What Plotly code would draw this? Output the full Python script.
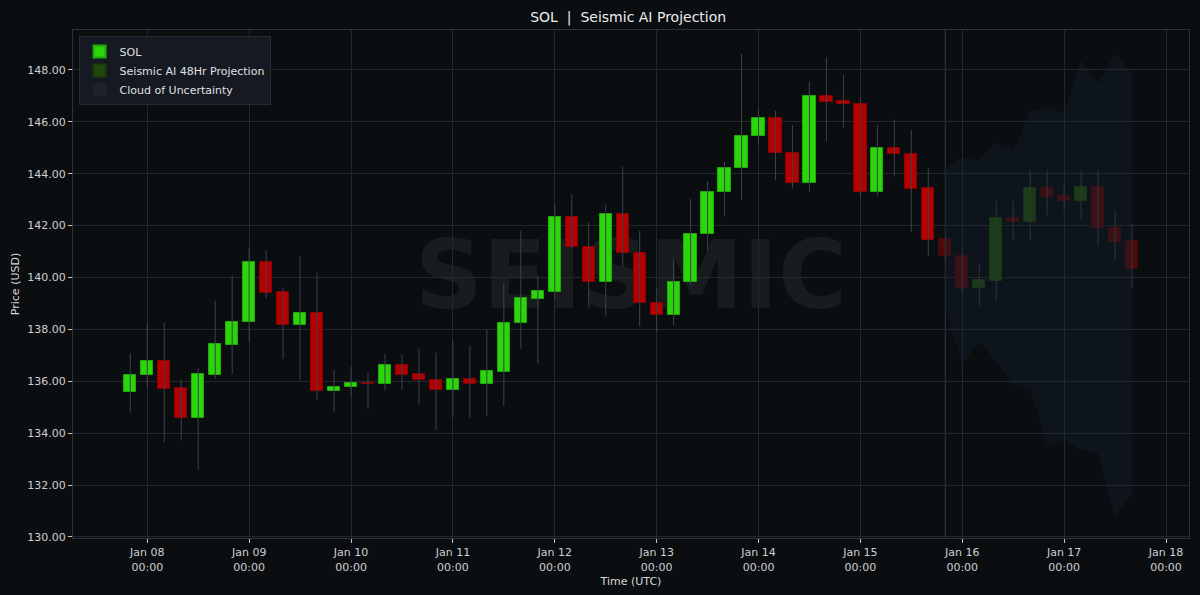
import plotly.graph_objects as go
import pandas as pd

# ---------------- data ----------------
hist_open = [135.60, 136.23, 136.77, 135.73, 134.60, 136.26, 137.41, 138.28, 140.60, 139.43,
             138.17, 138.62, 135.64, 135.77, 135.94, 135.91, 136.64, 136.27, 136.05, 135.67,
             136.09, 135.89, 136.37, 138.24, 139.19, 139.46, 142.35, 141.19, 139.84, 142.44,
             140.94, 139.03, 138.56, 139.82, 141.67, 143.29, 144.21, 145.45, 146.15, 144.80,
             143.66, 147.00, 146.80, 146.69, 143.31, 144.98, 144.76, 143.44]
hist_high = [137.08, 138.26, 138.26, 136.08, 136.50, 139.10, 140.06, 141.17, 141.06, 139.61,
             140.81, 140.17, 136.44, 136.57, 136.31, 137.05, 137.02, 137.25, 137.10, 137.53,
             137.37, 137.98, 139.78, 141.80, 140.06, 142.80, 143.22, 142.12, 142.80, 144.26,
             141.80, 139.59, 140.68, 143.03, 143.72, 144.47, 148.62, 146.50, 146.42, 145.88,
             147.55, 148.48, 147.81, 146.90, 145.88, 146.08, 145.69, 144.21]
hist_low = [134.81, 135.80, 133.65, 133.73, 132.58, 136.10, 136.27, 137.53, 139.18, 136.87,
            136.03, 135.28, 134.81, 135.41, 134.95, 135.64, 135.67, 135.09, 134.12, 134.61,
            134.60, 134.68, 135.05, 137.25, 136.70, 139.20, 141.13, 138.84, 138.52, 140.42,
            138.11, 137.90, 138.15, 139.71, 141.03, 142.35, 142.99, 145.10, 143.76, 143.44,
            143.31, 145.24, 145.78, 143.10, 143.16, 143.89, 141.76, 140.83]
hist_close = [136.25, 136.77, 135.71, 134.60, 136.27, 137.43, 138.30, 140.60, 139.42, 138.17,
              138.62, 135.64, 135.79, 135.94, 135.91, 136.64, 136.26, 136.05, 135.67, 136.10,
              135.89, 136.39, 138.26, 139.21, 139.48, 142.35, 141.19, 139.84, 142.44, 140.94,
              139.03, 138.56, 139.82, 141.67, 143.30, 144.21, 145.46, 146.15, 144.79, 143.66,
              147.00, 146.78, 146.68, 143.31, 144.98, 144.75, 143.42, 141.45]

proj_open = [141.48, 140.83, 139.61, 139.87, 142.30, 142.13, 143.45, 143.13, 142.94, 143.48, 141.92, 141.41]
proj_high = [141.60, 141.00, 140.55, 142.96, 142.96, 144.15, 144.15, 143.60, 144.15, 144.15, 142.61, 142.09]
proj_low = [140.70, 139.40, 138.91, 139.14, 141.42, 141.42, 142.39, 142.50, 142.22, 141.19, 140.68, 139.59]
proj_close = [140.83, 139.61, 139.90, 142.30, 142.13, 143.45, 143.12, 142.94, 143.48, 141.92, 141.38, 140.33]

cloud_upper = [144.21, 144.64, 144.53, 145.22, 144.92, 146.40, 146.59, 146.33, 148.39, 147.49, 148.65, 147.88]
cloud_lower = [138.75, 136.63, 137.53, 136.76, 135.86, 135.67, 133.55, 133.74, 133.35, 133.23, 130.78, 131.68]

hist_times = pd.date_range("2025-01-07 20:00", periods=len(hist_open), freq="4h")
proj_times = pd.date_range("2025-01-15 20:00", periods=len(proj_open), freq="4h")

x_tick_vals = pd.date_range("2025-01-08", "2025-01-18", freq="D")
x_tick_text = ["Jan 08<br>00:00", "Jan 09<br>00:00", "Jan 10<br>00:00", "Jan 11<br>00:00",
               "Jan 12<br>00:00", "Jan 13<br>00:00", "Jan 14<br>00:00", "Jan 15<br>00:00",
               "Jan 16<br>00:00", "Jan 17<br>00:00", "Jan 18<br>00:00"]
y_tick_vals = [130, 132, 134, 136, 138, 140, 142, 144, 146, 148]

# ---------------- styling ----------------
BG = "#0b0e11"
GRID = "#24282e"
GREEN = "#2ad50a"
GREEN_EDGE = "#21a80a"
RED = "#b40000"
RED_EDGE = "#8c0000"
PGREEN = "#1f480c"
PGREEN_EDGE = "#1a3d0b"
PRED = "#4e0a0a"
PRED_EDGE = "#420909"
WICK = "#3d414a"
PWICK = "#30343b"
BODY_W = 4 * 3600 * 1000 * 0.72
FONT = "DejaVu Sans"

fig = go.Figure()

# cloud of uncertainty
fig.add_trace(go.Scatter(
    x=list(proj_times) + list(proj_times[::-1]),
    y=cloud_upper + cloud_lower[::-1],
    fill="toself", mode="lines", line=dict(width=0),
    fillcolor="rgba(21,34,50,0.32)",
    showlegend=False, hoverinfo="skip"))


def wick_xy(times, highs, lows):
    xs, ys = [], []
    for t, h, l in zip(times, highs, lows):
        xs += [t, t, None]
        ys += [l, h, None]
    return xs, ys


def add_bodies(times, opens, closes, up, color, edge, name, rank, show):
    xs, base, hgt = [], [], []
    for t, o, c in zip(times, opens, closes):
        if (c >= o) == up:
            xs.append(t)
            base.append(min(o, c))
            hgt.append(max(abs(c - o), 0.04))
    fig.add_trace(go.Bar(x=xs, y=hgt, base=base, width=BODY_W,
                         marker=dict(color=color, line=dict(color=edge, width=1)),
                         name=name, legendrank=rank, showlegend=show, hoverinfo="skip"))


wx, wy = wick_xy(hist_times, hist_high, hist_low)
fig.add_trace(go.Scatter(x=wx, y=wy, mode="lines", line=dict(color=WICK, width=1),
                         showlegend=False, hoverinfo="skip"))
px_, py_ = wick_xy(proj_times, proj_high, proj_low)
fig.add_trace(go.Scatter(x=px_, y=py_, mode="lines", line=dict(color=PWICK, width=1),
                         showlegend=False, hoverinfo="skip"))

add_bodies(hist_times, hist_open, hist_close, True, GREEN, GREEN_EDGE, "SOL", 1, True)
add_bodies(hist_times, hist_open, hist_close, False, RED, RED_EDGE, "SOL down", 10, False)
add_bodies(proj_times, proj_open, proj_close, True, PGREEN, PGREEN_EDGE, "Seismic AI 48Hr Projection", 2, True)
add_bodies(proj_times, proj_open, proj_close, False, PRED, PRED_EDGE, "Projection down", 11, False)

# legend proxy for the cloud
fig.add_trace(go.Bar(x=[None], y=[None], marker=dict(color="#1c212b", line=dict(color="#1c212b", width=1)),
                     name="Cloud of Uncertainty", legendrank=3, showlegend=True, hoverinfo="skip"))

# separator at projection start
fig.add_shape(type="line", xref="x", yref="paper", x0=proj_times[0], x1=proj_times[0],
              y0=0, y1=1, line=dict(color="#2c3036", width=1.2), layer="between")

# watermark
fig.add_shape(type="rect", xref="paper", yref="paper", x0=0.28, x1=0.72, y0=0.40, y1=0.66,
              line=dict(width=0), fillcolor="rgba(0,0,0,0)", layer="between",
              label=dict(text="<b>SEISMIC</b>", font=dict(family=FONT, size=94,
                                                         color="rgba(255,255,255,0.06)"),
                         textposition="middle center"))

fig.update_layout(
    width=1200, height=595,
    paper_bgcolor=BG, plot_bgcolor=BG,
    margin=dict(l=73, r=11, t=30, b=57, autoexpand=False),
    barmode="overlay", bargap=0,
    font=dict(family=FONT, color="#d0d0d0", size=11),
    title=dict(text="SOL\u00a0 |\u00a0 Seismic AI Projection", x=0.5235, xanchor="center",
               y=1 - 17 / 595, yanchor="middle", yref="container",
               font=dict(family=FONT, size=14, color="#ececec")),
    legend=dict(x=0.005, y=0.988, xanchor="left", yanchor="top",
                bgcolor="#141922", bordercolor="#262b34", borderwidth=1,
                font=dict(family=FONT, size=11, color="#e0e0e0"),
                traceorder="normal", itemsizing="constant", tracegroupgap=0),
    showlegend=True,
)

fig.update_xaxes(
    type="date", automargin=False,
    range=[pd.Timestamp("2025-01-07 06:30"), pd.Timestamp("2025-01-18 05:25")],
    tickvals=x_tick_vals, ticktext=x_tick_text,
    showgrid=True, gridcolor=GRID, gridwidth=1,
    showline=True, linecolor="#2e323a", linewidth=1, mirror=True,
    ticks="outside", ticklen=4, tickcolor="#c8c8c8",
    tickfont=dict(family=FONT, size=11, color="#cfcfcf"),
    title=dict(text="Time (UTC)", font=dict(family=FONT, size=11, color="#d8d8d8"), standoff=4),
    zeroline=False,
)
fig.update_yaxes(
    automargin=False,
    range=[129.96, 149.54],
    tickvals=y_tick_vals, tickformat=".2f",
    showgrid=True, gridcolor=GRID, gridwidth=1,
    showline=True, linecolor="#2e323a", linewidth=1, mirror=True,
    ticks="outside", ticklen=4, tickcolor="#c8c8c8",
    tickfont=dict(family=FONT, size=11, color="#cfcfcf"),
    title=dict(text="Price (USD)", font=dict(family=FONT, size=11, color="#d8d8d8"), standoff=5),
    zeroline=False,
)

fig.write_html("out.html", config={"displayModeBar": False},
               post_script="document.body.style.margin='0';document.body.style.background='#0b0e11';")
